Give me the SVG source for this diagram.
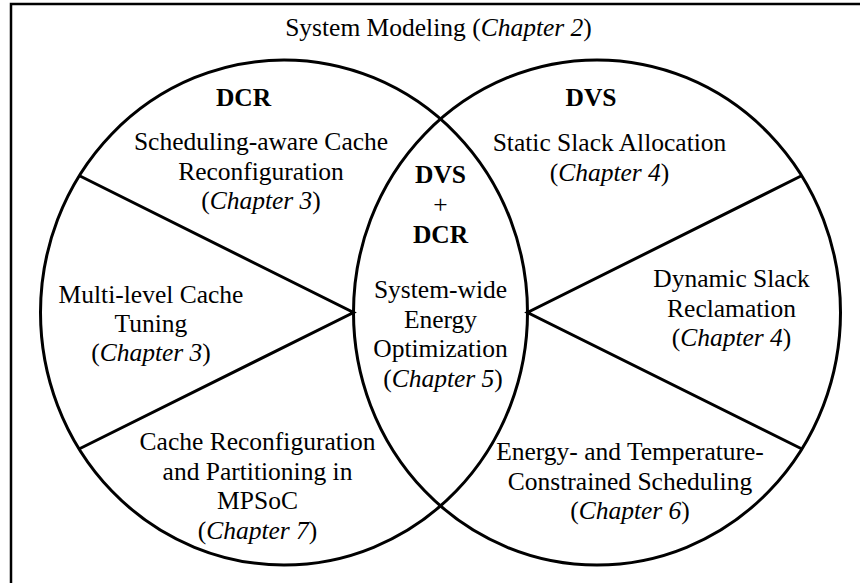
<svg xmlns="http://www.w3.org/2000/svg" width="860" height="583" viewBox="0 0 860 583" font-family="'Liberation Serif', 'Times New Roman', Times, serif">
  <style>
    .shape { fill: none; stroke: #000; stroke-width: 3; }
    .frame { fill: none; stroke: #000; stroke-width: 2.5; }
    text { font-family: 'Liberation Serif', 'Times New Roman', Times, serif; font-size: 25.5px; fill: #000; text-anchor: middle; }
    .b { font-weight: bold; }
    .i { font-style: italic; }
  </style>
  <rect width="860" height="583" fill="#fff"/>

  <!-- outer frame: right and bottom edges run off the canvas -->
  <g id="frame">
    <rect class="frame" x="11" y="4" width="900" height="700"/>
    <text x="438.5" y="36">System Modeling (<tspan class="i">Chapter 2</tspan>)</text>
  </g>

  <!-- the two overlapping sets and the dividing spokes -->
  <g id="connectors">
    <ellipse class="shape" cx="284" cy="312.5" rx="243.5" ry="252.5"/>
    <ellipse class="shape" cx="597" cy="312.5" rx="243.5" ry="252.5"/>
    <polyline class="shape" points="80,176 353.5,312.5 79,449"/>
    <polyline class="shape" points="801,176 527.5,312.5 802,449"/>
  </g>

  <g id="dcr-label">
    <text class="b" x="243.5" y="106">DCR</text>
  </g>
  <g id="dvs-label">
    <text class="b" x="591" y="106">DVS</text>
  </g>

  <g id="sched-cache">
    <text x="261" y="150">Scheduling-aware Cache</text>
    <text x="261" y="179.5">Reconfiguration</text>
    <text x="261" y="209">(<tspan class="i">Chapter 3</tspan>)</text>
  </g>

  <g id="multilevel-cache">
    <text x="151" y="303">Multi-level Cache</text>
    <text x="151" y="332">Tuning</text>
    <text x="151" y="361">(<tspan class="i">Chapter 3</tspan>)</text>
  </g>

  <g id="mpsoc-cache">
    <text x="257.5" y="450">Cache Reconfiguration</text>
    <text x="257.5" y="479.5">and Partitioning in</text>
    <text x="257.5" y="509">MPSoC</text>
    <text x="257.5" y="538.5">(<tspan class="i">Chapter 7</tspan>)</text>
  </g>

  <g id="system-wide">
    <text class="b" x="440.5" y="183">DVS</text>
    <text x="440.5" y="213">+</text>
    <text class="b" x="440.5" y="243">DCR</text>
    <text x="440.5" y="298">System-wide</text>
    <text x="440.5" y="327.5">Energy</text>
    <text x="440.5" y="357">Optimization</text>
    <text x="443" y="386.5">(<tspan class="i">Chapter 5</tspan>)</text>
  </g>

  <g id="static-slack">
    <text x="609.5" y="151">Static Slack Allocation</text>
    <text x="609.5" y="180.5">(<tspan class="i">Chapter 4</tspan>)</text>
  </g>

  <g id="dynamic-slack">
    <text x="731.5" y="287">Dynamic Slack</text>
    <text x="731.5" y="316.5">Reclamation</text>
    <text x="731.5" y="346">(<tspan class="i">Chapter 4</tspan>)</text>
  </g>

  <g id="energy-temp">
    <text x="630" y="460">Energy- and Temperature-</text>
    <text x="630" y="489.5">Constrained Scheduling</text>
    <text x="630" y="519">(<tspan class="i">Chapter 6</tspan>)</text>
  </g>
</svg>
